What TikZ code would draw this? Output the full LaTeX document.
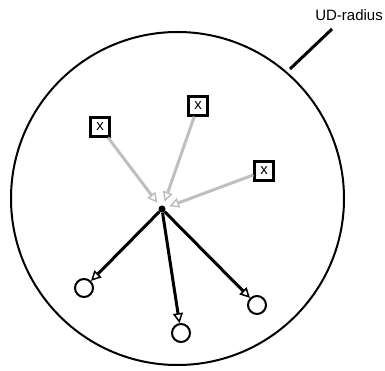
\documentclass[tikz,border=0pt]{standalone}
\usepackage{fontspec}
\setmainfont{Liberation Sans}
\usetikzlibrary{arrows.meta}

\begin{document}
\begin{tikzpicture}[x=1pt,y=-1pt,
  >={Triangle[open,length=10pt,width=10pt,line width=1.5pt]},
  src/.style={draw,line width=2.2pt,minimum size=19pt,inner sep=0pt,font=\fontsize{15}{15}\selectfont},
  dst/.style={draw,circle,line width=2pt,minimum size=18pt,inner sep=0pt},
  inflow/.style={->,draw=black!25,line width=3pt,shorten >=4pt},
  outflow/.style={->,line width=3pt},
  every node/.style={inner sep=2pt}]
  \useasboundingbox (0,0) rectangle (385,371);
  % -- range of the unit disk
  \node[draw,circle,line width=2pt,minimum size=333pt,inner sep=0pt] (disk) at (177.5,198.5) {};
  \node[font=\fontsize{15}{15}\selectfont,anchor=east,inner sep=0pt] (lbl) at (383,15) {UD-radius};
  \coordinate (lbltop) at (332,29);
  \coordinate (lblfoot) at (290,69);
  \draw[line width=3pt] (lbltop) -- (lblfoot);
  % -- hub
  \node[fill,circle,minimum size=7pt,inner sep=0pt] (hub) at (162,209) {};
  % -- senders
  \node[src] (x1) at (100,127) {x};
  \node[src] (x2) at (198,106) {x};
  \node[src] (x3) at (264,171) {x};
  \draw[inflow] (x1) -- (hub);
  \draw[inflow] (x2) -- (hub);
  \draw[inflow] (x3) -- (hub);
  % -- receivers
  \node[dst] (r1) at (84,288) {};
  \node[dst] (r2) at (181,333) {};
  \node[dst] (r3) at (257,305) {};
  \draw[outflow] (hub) -- (r1);
  \draw[outflow] (hub) -- (r2);
  \draw[outflow] (hub) -- (r3);
\end{tikzpicture}
\end{document}
